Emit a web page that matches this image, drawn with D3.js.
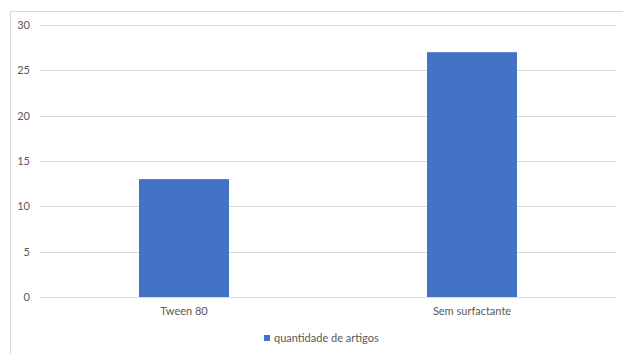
<!DOCTYPE html>
<html>
<head>
<meta charset="utf-8">
<script src="https://cdn.jsdelivr.net/npm/d3@7"></script>
<style>
  body { margin: 0; background: #fff; }
  svg { display: block; font-family: Lato, "Liberation Sans", sans-serif; }
</style>
</head>
<body>
<svg id="chart" width="623" height="354"></svg>
<script>
const categories = ["Tween 80", "Sem surfactante"];
const values = [13, 27];
const yTicks = [0, 5, 10, 15, 20, 25, 30];
const seriesName = "quantidade de artigos";

const svg = d3.select("#chart");
const textColor = "#595959";
const barColor = "#4472C4";

// chart border
svg.append("rect")
    .attr("x", 10.5)
    .attr("y", 11.5)
    .attr("width", 640)
    .attr("height", 360)
    .attr("fill", "none")
    .attr("stroke", "#d9d9d9");

const x = d3.scaleBand()
    .domain(categories)
    .range([40, 616])
    .paddingInner(0.6875)
    .paddingOuter(0.34375);

const y = d3.scaleLinear()
    .domain([0, 30])
    .range([297, 25]);

// gridlines
svg.append("g")
    .selectAll("line")
    .data(yTicks)
    .join("line")
    .attr("x1", 40)
    .attr("x2", 616)
    .attr("y1", (d) => Math.round(y(d)) + 0.5)
    .attr("y2", (d) => Math.round(y(d)) + 0.5)
    .attr("stroke", "#d9d9d9");

// y labels
const yAxis = svg.append("g")
    .attr("transform", "translate(30,0)")
    .call(d3.axisLeft(y).tickValues(yTicks).tickSize(0).tickPadding(0));
yAxis.select(".domain").remove();
yAxis.selectAll("text")
    .attr("fill", textColor)
    .style("font-size", "11px")
    .style("font-family", "Lato, 'Liberation Sans', sans-serif");

// bars
svg.append("g")
    .selectAll("rect")
    .data(values)
    .join("rect")
    .attr("x", (d, i) => x(categories[i]))
    .attr("width", x.bandwidth())
    .attr("y", (d) => y(d))
    .attr("height", (d) => y(0) - y(d))
    .attr("fill", barColor);

// x labels
const xAxis = svg.append("g")
    .attr("transform", "translate(0,297)")
    .call(d3.axisBottom(x).tickSize(0).tickPadding(10));
xAxis.select(".domain").remove();
xAxis.selectAll("text")
    .attr("fill", textColor)
    .style("font-size", "11px")
    .style("font-family", "Lato, 'Liberation Sans', sans-serif");

// legend
const legend = svg.append("g").attr("transform", "translate(264,335)");
legend.append("rect")
    .attr("width", 6)
    .attr("height", 6)
    .attr("fill", barColor);
legend.append("text")
    .attr("x", 10)
    .attr("y", 7)
    .attr("fill", textColor)
    .style("font-size", "11px")
    .text(seriesName);
</script>
</body>
</html>
